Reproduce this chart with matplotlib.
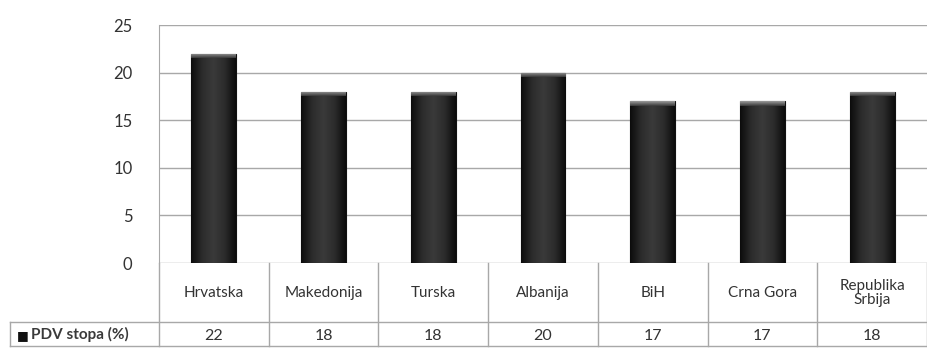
import matplotlib
matplotlib.use("Agg")
import matplotlib.pyplot as plt
import matplotlib.transforms as mtransforms
from matplotlib.colors import LinearSegmentedColormap
import numpy as np

plt.rcParams['font.family'] = ['Lato', 'DejaVu Sans']

zemlje = ["Hrvatska", "Makedonija", "Turska", "Albanija", "BiH", "Crna Gora", "Republika\nSrbija"]
pdv = [22, 18, 18, 20, 17, 17, 18]
serija = "PDV stopa (%)"
y_ticks = [0, 5, 10, 15, 20, 25]

W, H = 927, 349
fig = plt.figure(figsize=(W / 100, H / 100), dpi=100)
ax = fig.add_axes([159 / W, (H - 263) / H, 768 / W, (263 - 25) / H])

txt = "#333333"
grid = "#a8a8a8"
n = len(zemlje)
ax.set_yticks(y_ticks)
ax.set_yticklabels([str(t) for t in y_ticks], fontsize=12, color=txt)
ax.set_xticks([])
ax.tick_params(axis='y', length=0, pad=19)
for s in ["top", "right", "bottom"]:
    ax.spines[s].set_visible(False)
ax.spines["left"].set_color(grid)
for t in y_ticks:
    ax.axhline(t, color=grid, lw=1.0, zorder=1)

# tamni stupci sa sjencanjem
cmap = LinearSegmentedColormap.from_list("stup", ["#0c0c0c", "#2c2c2c", "#3a3a3a", "#2c2c2c", "#0c0c0c"])
grad = np.linspace(0, 1, 64).reshape(1, -1)
sirina = 0.41
bars = ax.bar(range(n), pdv, width=sirina, color="#262626", edgecolor="#111111", lw=0.8, zorder=2)
for b in bars:
    x0, w, h = b.get_x(), b.get_width(), b.get_height()
    im = ax.imshow(grad, cmap=cmap, extent=[x0, x0 + w, 0, h], aspect='auto', zorder=3)
    im.set_clip_path(b)
    top = ax.imshow(np.linspace(0, 1, 16).reshape(-1, 1), cmap=LinearSegmentedColormap.from_list("vrh", ["#9a9a9a", "#3a3a3a"]),
                    extent=[x0, x0 + w, h - 0.5, h], aspect='auto', zorder=3)
    top.set_clip_path(b)
ax.set_xlim(-0.5, n - 0.5)
ax.set_ylim(0, 25)

# tablica podataka ispod grafa
tr = mtransforms.blended_transform_factory(ax.transData, ax.transAxes)
r1 = -0.248
r2 = -0.35
lijevo = -0.5 - 149 / (768 / n)
lk = dict(color=grid, lw=1.0, transform=tr, clip_on=False)
for i in range(n + 1):
    ax.plot([i - 0.5, i - 0.5], [0, r2], **lk)
ax.plot([lijevo, n - 0.5], [r1, r1], **lk)
ax.plot([lijevo, n - 0.5], [r2, r2], **lk)
ax.plot([lijevo, lijevo], [r1, r2], **lk)

for i, (z, v) in enumerate(zip(zemlje, pdv)):
    ax.text(i, -0.126, z, transform=tr, ha="center", va="center", fontsize=11,
            color=txt, linespacing=1.0)
    ax.text(i, -0.305, str(v), transform=tr, ha="center", va="center", fontsize=11.5, color=txt)

ax.text(lijevo + 0.065, -0.302, "\u25A0", transform=tr, ha="left", va="center", fontsize=9, color="#111111")
ax.text(lijevo + 0.19, -0.302, serija, transform=tr, ha="left", va="center", fontsize=11,
        fontweight="bold", color="#3a3a3a")

fig.savefig("out.png", dpi=100)
